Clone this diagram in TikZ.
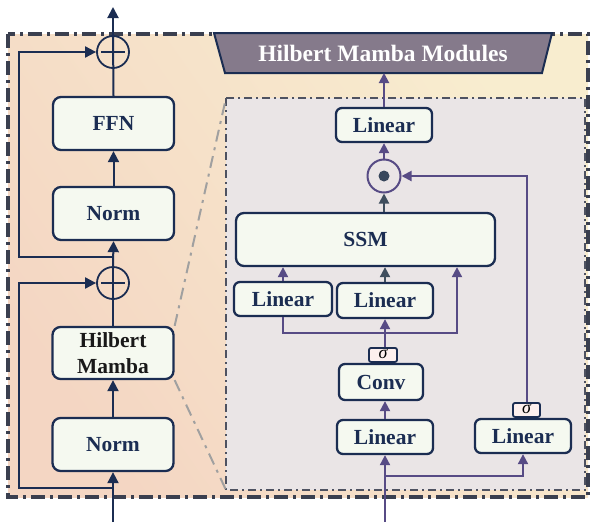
\documentclass[tikz,border=0pt]{standalone}
\usepackage{fontspec}
\setmainfont{Liberation Serif}
\usetikzlibrary{arrows.meta,calc}
\definecolor{navy}{HTML}{1B2D52}
\definecolor{boxfill}{HTML}{F5F9F0}
\definecolor{purp}{HTML}{574B85}
\definecolor{slate}{HTML}{3F4E5E}
\definecolor{peach}{HTML}{F4D6C3}
\definecolor{cream}{HTML}{F8EDCF}
\definecolor{innerfill}{HTML}{EAE5E6}
\definecolor{dashc}{HTML}{3A3F4F}
\definecolor{titlefill}{HTML}{857A8B}
\definecolor{sigfill}{HTML}{FDF0EE}
\definecolor{guide}{HTML}{A0A0A0}
\begin{document}
\begin{tikzpicture}[x=1pt,y=-1pt,
  blk/.style={draw=navy, line width=2.3pt, fill=boxfill, rounded corners=8pt, inner sep=0pt,
    text=navy, font=\fontsize{21.5pt}{26pt}\selectfont\bfseries, align=center},
  sblk/.style={blk, rounded corners=6pt},
  sigbox/.style={draw=navy, line width=1.8pt, fill=sigfill, rounded corners=2pt, inner sep=0pt,
    minimum width=28pt, minimum height=14pt, text height=7pt, text depth=0pt,
    font=\fontsize{18pt}{18pt}\selectfont\itshape},
  plusc/.style={circle, draw=navy, line width=1.8pt, minimum size=32pt, inner sep=0pt},
  main/.style={navy, line width=2pt},
  mainar/.style={main, -{Triangle[width=11pt,length=11pt]}},
  ip/.style={purp, line width=2pt},
  ipar/.style={ip, -{Triangle[width=10pt,length=10pt]}},
  slar/.style={slate, line width=2pt, -{Triangle[width=10pt,length=10pt]}},
]
\useasboundingbox (0,0) rectangle (596,525);
% outer box
\shade[top color=cream, bottom color=peach, shading angle=-55] (8,34) rectangle (588,497);
\draw[dashc, line width=3.5pt, dash pattern=on 14pt off 5pt on 3pt off 5pt] (8,34) rectangle (588,497);
% inner box
\coordinate (itl) at (226,98);
\coordinate (ibl) at (226,490);
\fill[innerfill] (226,98) rectangle (585,490);
\draw[dashc!90!white, line width=1.8pt, dash pattern=on 8pt off 4pt on 2pt off 4pt] (226,98) rectangle (585,490);
% title trapezoid
\draw[navy, line width=2pt, fill=titlefill] (214,33) -- (552,33) -- (542,73) -- (225,73) -- cycle;
\node[text=white, font=\fontsize{23.5pt}{26pt}\selectfont\bfseries] (title) at (383,53) {Hilbert Mamba Modules};
\coordinate (tb) at (384,73);

% left column
\node[blk, minimum width=121pt, minimum height=53pt] (ffn) at (113.5,123.5) {FFN};
\node[blk, minimum width=121pt, minimum height=53pt] (norm1) at (113.5,213.5) {Norm};
\node[blk, minimum width=121pt, minimum height=52pt, text=black!90] (hm) at (113,353) {Hilbert\\Mamba};
\node[blk, minimum width=121pt, minimum height=53pt] (norm2) at (113,444.5) {Norm};
\node[plusc] (plus1) at (113,52) {};
\node[plusc] (plus2) at (113,283) {};

% guide lines
\draw[guide, line width=2pt, dash pattern=on 12pt off 6pt on 3pt off 6pt] (hm.north east) -- (itl);
\draw[guide, line width=2pt, dash pattern=on 12pt off 6pt on 3pt off 6pt] (hm.south east) -- (ibl);

\coordinate (out1) at (113,7);
\coordinate (in1) at (113,522);
\coordinate (br1) at (113,257);
\coordinate (sk1) at (19,257);
\coordinate (br2) at (113,488);
\coordinate (sk2) at (19,488);

\draw[main] (ffn.north) -- (plus1.north);
\draw[mainar] (plus1.north) -- (out1);
\draw[main] ([xshift=-12pt]plus1.center) -- ([xshift=12pt]plus1.center);
\draw[mainar] (norm1.north) -- (ffn.south);
\draw[mainar] (plus2.north) -- (norm1.south);
\draw[mainar] (br1) -- (sk1) |- (plus1.west);
\draw[main] (hm.north) -- (plus2.north);
\draw[main] ([xshift=-12pt]plus2.center) -- ([xshift=12pt]plus2.center);
\draw[mainar] (norm2.north) -- (hm.south);
\draw[mainar] (in1) -- (norm2.south);
\draw[mainar] (br2) -- (sk2) |- (plus2.west);

% inner nodes
\node[sblk, minimum width=96pt, minimum height=34pt] (tl) at (384,125) {Linear};
\node[circle, draw=purp, line width=2pt, minimum size=33pt, inner sep=0pt] (odot) at (384,176) {};
\fill[slate!80!navy] (odot.center) circle (5.5pt);
\node[blk, minimum width=259pt, minimum height=53pt] (ssm) at (365.5,239.5) {SSM};
\node[sblk, minimum width=98pt, minimum height=34pt] (l1) at (283,299) {Linear};
\node[sblk, minimum width=96pt, minimum height=35pt] (l2) at (385,300.5) {Linear};
\node[sblk, minimum width=84pt, minimum height=36pt] (conv) at (381,382) {Conv};
\node[sigbox, anchor=south] (sig1) at ([xshift=2pt]conv.north) {σ};
\node[sblk, minimum width=96pt, minimum height=34pt] (l3) at (385,437) {Linear};
\node[sblk, minimum width=96pt, minimum height=34pt] (l4) at (523,436) {Linear};
\node[sigbox, minimum width=27pt, anchor=south] (sig2) at ([xshift=3.5pt]l4.north) {σ};

\coordinate (bus) at (457,333);
\coordinate (in2) at (385,522);
\coordinate (br3) at (385,476);

\draw[ipar] (tl.north) -- (tb);
\draw[ipar] (odot.north) -- (odot.north |- tl.south);
\draw[slar] (ssm.north -| odot) -- (odot.south);
\draw[ipar] (l1.north) -- (l1.north |- ssm.south);
\draw[slar] (l2.north) -- (l2.north |- ssm.south);
\draw[ipar] (l1.south) |- (bus) -- (bus |- ssm.south);
\draw[ipar] (sig1.north -| l2) -- (l2.south);
\draw[ipar] (l3.north) -- (l3.north |- conv.south);
\draw[ipar] (in2) -- (l3.south);
\draw[ipar] (br3) -| (l4.south);
\draw[ipar] (sig2.north) |- (odot.east);
\end{tikzpicture}
\end{document}
